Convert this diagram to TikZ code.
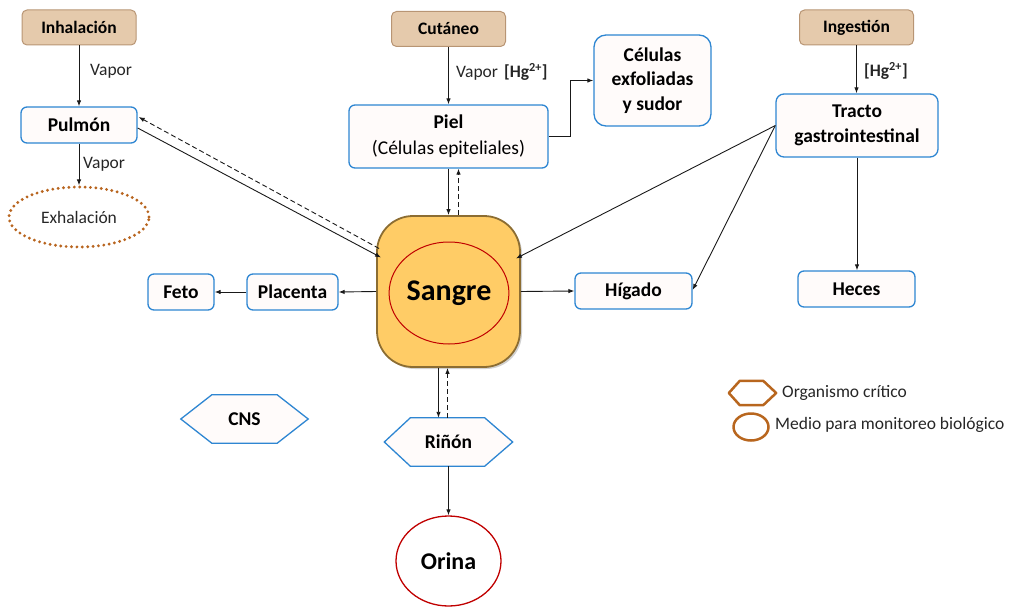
\documentclass[tikz,border=0pt]{standalone}
\usepackage{fontspec}
\setmainfont{Carlito}
\usetikzlibrary{arrows.meta,shadows,calc,backgrounds,shapes.geometric}
\definecolor{tanF}{HTML}{E5CAAC}
\definecolor{tanB}{HTML}{B89574}
\definecolor{bB}{HTML}{2E86D2}
\definecolor{bF}{HTML}{FFFBFA}
\definecolor{sangF}{HTML}{FFCC66}
\definecolor{sangB}{HTML}{8C6D32}
\definecolor{redC}{HTML}{C00000}
\definecolor{dotC}{HTML}{B8651F}
\definecolor{legC}{HTML}{B8661E}
\begin{document}
\begin{tikzpicture}[x=1pt,y=-1pt,
  tanbox/.style={draw=tanB, fill=tanF, line width=1pt, rounded corners=5pt, minimum width=114pt, minimum height=35pt, inner sep=0pt, font=\fontsize{17.5}{21}\selectfont\bfseries},
  bluebox/.style={draw=bB, fill=bF, line width=1.3pt, rounded corners=6pt, inner sep=0pt, align=center, font=\fontsize{19.5}{24.5}\selectfont\bfseries},
  hexnode/.style={inner sep=0pt, minimum width=127pt, minimum height=48pt, font=\fontsize{19.5}{24}\selectfont\bfseries},
  hexS/.style={draw=bB, fill=bF, line width=1.3pt, line join=miter},
  lbl/.style={inner sep=0pt, anchor=west, text=black!85, font=\fontsize{17.5}{21}\selectfont},
  arr/.style={-{Latex[length=6pt,width=4.5pt]}, line width=0.9pt, black!90},
  darr/.style={arr, dash pattern=on 5pt off 3pt}
]
\useasboundingbox (0,0) rectangle (1019,607);

% top entry boxes
\node[tanbox] (inh) at (79,27.5) {Inhalación};
\node[tanbox] (cut) at (448.5,29) {Cutáneo};
\node[tanbox] (ing) at (856.5,27.5) {Ingestión};

% blue boxes
\node[bluebox, minimum width=116pt, minimum height=36pt] (pul) at (79,125) {Pulmón};
\node[draw=dotC, line width=3.2pt, dash pattern=on 0pt off 5.4pt, line cap=round, ellipse, minimum width=140pt, minimum height=60pt, inner sep=0pt, text=black!85, font=\fontsize{17.5}{21}\selectfont] (exh) at (79,217) {Exhalación};
\node[bluebox, minimum width=199pt, minimum height=63pt, font=\fontsize{19.5}{26}\selectfont] (piel) at (448.5,136.5) {\textbf{Piel}\\(Células epiteliales)};
\node[bluebox, minimum width=117pt, minimum height=91pt, rounded corners=12pt] (cel) at (652.5,80.5) {Células\\exfoliadas\\y sudor};
\node[bluebox, minimum width=162pt, minimum height=63pt, rounded corners=8pt] (trac) at (857,125.5) {Tracto\\gastrointestinal};
\node[bluebox, minimum width=117pt, minimum height=36pt] (hec) at (856.5,289) {Heces};
\node[bluebox, minimum width=66pt, minimum height=36pt] (feto) at (181,292) {Feto};
\node[bluebox, minimum width=91pt, minimum height=36pt] (plac) at (292.5,292) {Placenta};
\node[bluebox, minimum width=117pt, minimum height=36pt] (hig) at (633.5,291) {Hígado};

% Sangre
\node[draw=sangB, fill=sangF, line width=1.8pt, rounded corners=36pt, minimum width=143pt, minimum height=151pt, inner sep=0pt,
      drop shadow={shadow xshift=2pt, shadow yshift=-2pt, opacity=0.3, fill=black!60}] (sang) at (448.5,291.5) {};
\node[draw=redC, line width=1pt, ellipse, minimum width=106pt, minimum height=102pt, inner sep=0pt, font=\fontsize{30}{36}\selectfont\bfseries] (sangc) at (449,293) {Sangre};

% hexagons
\node[hexnode] (cns) at (244.5,419) {CNS};
\node[hexnode, minimum width=128pt] (rin) at (448.5,442) {Riñón};
\begin{scope}[on background layer]
\draw[hexS] (cns.west) -- ([xshift=31pt]cns.north west) -- ([xshift=-31pt]cns.north east) -- (cns.east) -- ([xshift=-31pt]cns.south east) -- ([xshift=31pt]cns.south west) -- cycle;
\draw[hexS] (rin.west) -- ([xshift=26pt]rin.north west) -- ([xshift=-28pt]rin.north east) -- (rin.east) -- ([xshift=-28pt]rin.south east) -- ([xshift=26pt]rin.south west) -- cycle;
\end{scope}

% Orina
\node[draw=redC, line width=1.3pt, ellipse, minimum width=105pt, minimum height=90pt, inner sep=0pt, font=\fontsize{24}{28}\selectfont\bfseries] (ori) at (448.5,561) {Orina};

% legend
\node[inner sep=0pt, minimum width=47pt, minimum height=24pt] (lh) at (752.5,393) {};
\begin{scope}[on background layer]
\draw[draw=legC, line width=2.5pt, line join=round] (lh.west) -- ([xshift=11pt]lh.north west) -- ([xshift=-13pt]lh.north east) -- (lh.east) -- ([xshift=-13pt]lh.south east) -- ([xshift=11pt]lh.south west) -- cycle;
\end{scope}
\node[draw=legC, line width=2.5pt, ellipse, minimum width=35pt, minimum height=27pt, inner sep=0pt] (lc) at (751,427) {};
\node[lbl] (lt1) at (782,393) {Organismo crítico};
\node[lbl] (lt2) at (775,425) {Medio para monitoreo biológico};

% labels
\node[lbl] (v1) at (90,71) {Vapor};
\node[lbl] (v2) at (83,164) {Vapor};
\node[lbl] (v3) at (456,72) {Vapor\hspace{6pt}\textbf{[Hg\textsuperscript{2+}]}};
\node[lbl] (v4) at (864,71) {\textbf{[Hg\textsuperscript{2+}]}};

% connectors
\draw[arr] (inh.south) -- (inh.south |- pul.north);
\draw[arr] (pul.south) -- (exh.north);
\draw[arr] ([shift={(0,3)}]pul.east) -- ([shift={(5,-34)}]sang.west);
\draw[darr] ([shift={(3,-43)}]sang.west) -- ([shift={(1,-8)}]pul.east);

\draw[arr] (cut.south) -- (cut.south |- piel.north);
\draw[arr] (piel.east) -| ([xshift=-23pt]cel.west) -- (cel.west);
\draw[arr] (piel.south) -- (sang.north);
\draw[darr] ([xshift=10pt]sang.north) -- ([xshift=10pt]piel.south);

\draw[arr] (ing.south) -- (ing.south |- trac.north);
\draw[arr] (trac.west) -- ([shift={(-5,-33)}]sang.east);
\draw[arr] (trac.west) -- ([shift={(0,-1)}]hig.east);
\draw[arr] (trac.south) -- (trac.south |- hec.north);

\draw[arr] (sang.east) -- (hig.west);
\draw[arr] (sang.west) -- (plac.east);
\draw[arr] (plac.west) -- (feto.east);

\draw[arr] ([xshift=-10pt]sang.south) -- ([xshift=-10pt]sang.south |- rin.north);
\draw[darr] ([xshift=-1pt]sang.south |- rin.north) -- ([xshift=-1pt]sang.south);
\draw[arr] (rin.south) -- (ori.north);
\end{tikzpicture}
\end{document}
